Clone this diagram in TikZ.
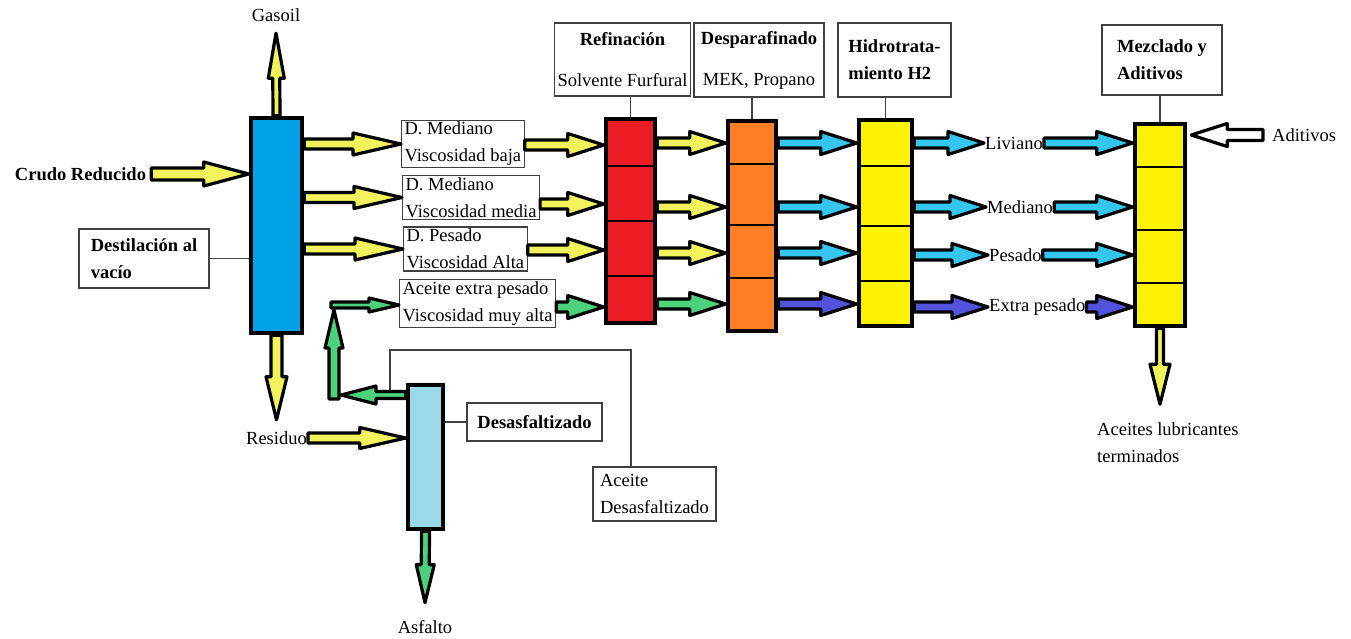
\documentclass[tikz,border=0pt]{standalone}
\usepackage{fontspec}
\setmainfont{Liberation Serif}
\usetikzlibrary{calc}
\definecolor{destblue}{HTML}{00A2E8}
\definecolor{refred}{HTML}{ED1C24}
\definecolor{desporange}{HTML}{FF7F27}
\definecolor{hidyellow}{HTML}{FFF200}
\definecolor{desalight}{HTML}{99D9EA}
\definecolor{ayel}{HTML}{F0F35C}
\definecolor{acyan}{HTML}{35C6F0}
\definecolor{agreen}{HTML}{4CD27C}
\definecolor{apurple}{HTML}{5252DC}
\newcommand\fsz{\fontsize{18.5}{27}\selectfont}
\tikzset{
  ar s/.store in=\arS, ar h/.store in=\arH, ar l/.store in=\arL,
  ar s=5pt, ar h=11.5pt, ar l=36pt,
  flow/.style={draw=black, line width=3.2pt, line join=round, fill=#1,
    to path={let \p1=(\tikztostart), \p2=(\tikztotarget), \n1={atan2((\y2)-(\y1),(\x2)-(\x1))}, \p3=($(\p2)!\arL!(\p1)$) in
      ($(\p1)+(\n1+90:\arS)$) -- ($(\p3)+(\n1+90:\arS)$) -- ($(\p3)+(\n1+90:\arH)$) -- (\p2)
      -- ($(\p3)+(\n1-90:\arH)$) -- ($(\p3)+(\n1-90:\arS)$) -- ($(\p1)+(\n1-90:\arS)$) -- cycle}},
  col/.style={draw=black, line width=4.5pt, inner sep=0pt},
  lbl/.style={draw=black!75, line width=1.2pt, inner xsep=3pt, inner ysep=2pt, align=left},
  txt/.style={inner sep=1pt},
  sep/.style={line width=1.3pt},
  lnk/.style={draw=black!75, line width=1.2pt},
  bold/.style={font=\fsz\bfseries}
}
\begin{document}
\begin{tikzpicture}[x=1pt,y=-1pt,font=\fsz]
\useasboundingbox (0,0) rectangle (1351,638);
\node[col,fill=destblue,minimum width=51pt,minimum height=215pt] (dest) at (276.5,225.5) {};
\node[col,fill=refred,minimum width=49pt,minimum height=204pt] (ref) at (630.5,221) {};
\node[col,fill=desporange,minimum width=48pt,minimum height=210pt] (desp) at (752,226) {};
\node[col,fill=hidyellow,minimum width=53pt,minimum height=206pt] (hid) at (885.5,223) {};
\node[col,fill=hidyellow,minimum width=50pt,minimum height=202pt] (mez) at (1160,225) {};
\node[col,fill=desalight,minimum width=35pt,minimum height=144pt] (desa) at (425.5,457) {};
\foreach \c/\ya/\yb/\yc in {ref/166/221/276,desp/164/225/278,hid/166/226/281,mez/167/230/283}
  \foreach \r in {\ya,\yb,\yc} \draw[sep] (\c.west |- 0,\r) -- (\c.east |- 0,\r);
\node[lbl,bold,minimum width=130pt,minimum height=59pt] (lbdest) at (144,258.5) {Destilación al\\vacío};
\node[lbl,align=center,minimum width=133pt,minimum height=73pt] (lbref) at (622.5,59.5) {\textbf{Refinación}\\[14pt]Solvente Furfural};
\node[lbl,align=center,minimum width=130pt,minimum height=74pt] (lbdesp) at (759,60) {\textbf{Desparafinado}\\[14pt]MEK, Propano};
\node[lbl,bold,minimum width=113pt,minimum height=74pt] (lbhid) at (894.5,60) {Hidrotrata-\\miento H2};
\node[lbl,bold,minimum width=120pt,minimum height=70pt] (lbmez) at (1162,60) {Mezclado y\\Aditivos};
\node[lbl,anchor=west] (lbA) at (401,144) {D. Mediano\\Viscosidad baja};
\node[lbl,anchor=west] (lbB) at (402,197.5) {D. Mediano\\Viscosidad media};
\node[lbl,anchor=west] (lbC) at (403,249) {D. Pesado\\Viscosidad Alta};
\node[lbl,anchor=west] (lbD) at (399,303.5) {Aceite extra pesado\\Viscosidad muy alta};
\node[lbl,bold,minimum width=135pt,minimum height=38pt] (lbdesa) at (534.5,422) {Desasfaltizado};
\node[lbl,minimum width=123pt,minimum height=54pt] (lbaceite) at (654.5,494) {Aceite\\Desasfaltizado};
\node[txt] (gas) at (276,15) {Gasoil};
\node[txt,bold] (crudo) at (80.5,174) {Crudo Reducido};
\node[txt] (res) at (276.5,438) {Residuo};
\node[txt] (asf) at (425,627) {Asfalto};
\node[txt,anchor=west] (liv) at (984,143) {Liviano};
\node[txt,anchor=west] (med) at (986,207) {Mediano};
\node[txt,anchor=west] (pes) at (988,255) {Pesado};
\node[txt,anchor=west] (ext) at (988,307) {Extra pesado};
\node[txt,anchor=west] (adit) at (1271,135) {Aditivos};
\node[txt,anchor=west,align=left] (acl) at (1096,442.5) {Aceites lubricantes\\terminados};
\coordinate (gturn) at (334,395);
\coordinate (gtop) at (334,305);
\coordinate (dao) at (390,391);
\draw[lnk] (lbdest.east) -- (dest.west |- lbdest.east);
\foreach \l/\c in {lbref/ref,lbdesp/desp,lbhid/hid,lbmez/mez} \draw[lnk] (\l.south -| \c.north) -- (\c.north);
\draw[lnk] (desa.east |- lbdesa.west) -- (lbdesa.west);
\draw[lnk] ([xshift=-23.5pt]lbaceite.north) |- ([yshift=41pt]dao) -- (dao);
\draw[flow=ayel,ar s=3.5pt,ar h=8pt,ar l=45pt] (dest.north) to ($(gas.south)+(0,10.5)$);
\draw[flow=ayel,ar s=6pt,ar h=12pt,ar l=45pt] ([xshift=4pt]crudo.east) to (dest.west |- crudo.east);
\foreach \b in {lbA,lbB,lbC} \draw[flow=ayel,ar s=5pt,ar h=11pt,ar l=48pt] (dest.east |- \b.west) to (\b.west);
\foreach \b/\r/\c in {lbA/145/ayel,lbB/204/ayel,lbC/250/ayel,lbD/307/agreen} \draw[flow=\c] (\b.east |- 0,\r) to (ref.west |- 0,\r);
\foreach \r/\c in {143/ayel,207/ayel,253/ayel,304/agreen} \draw[flow=\c] (ref.east |- 0,\r) to (desp.west |- 0,\r);
\foreach \r/\c in {143/acyan,207/acyan,253/acyan,304/apurple} \draw[flow=\c] (desp.east |- 0,\r) to (hid.west |- 0,\r);
\foreach \t/\c in {liv/acyan,med/acyan,pes/acyan,ext/apurple}{
  \draw[flow=\c] (hid.east |- \t.west) to (\t.west);
  \draw[flow=\c] (\t.east) to (mez.west |- \t.east);}
\draw[flow=white,ar s=5.5pt,ar h=11.5pt,ar l=36pt] ([xshift=-8pt]adit.west) to ([xshift=4pt]mez.east |- adit.west);
\draw[flow=ayel,ar s=3.5pt,ar h=10pt,ar l=40pt] (mez.south) to ($(mez.south |- acl.north)+(0,-17)$);
\draw[flow=ayel,ar s=5.5pt,ar h=10.5pt,ar l=43pt] (dest.south) to ($(res.north)+(0,-10.5)$);
\draw[flow=ayel,ar s=5pt,ar h=10.5pt,ar l=46pt] (res.east) to (desa.west |- res.east);
\draw[flow=agreen,ar s=4pt,ar h=9pt,ar l=38pt] (desa.south) to ($(asf.north)+(0,-16.5)$);
\draw[flow=agreen,ar s=3.5pt,ar h=9pt,ar l=35pt] (desa.west |- gturn) to ([xshift=7pt]gturn);
\draw[flow=agreen,ar s=5pt,ar h=9pt,ar l=38pt] ([yshift=-4pt]gturn) to ([yshift=-5pt]gtop);
\draw[flow=agreen,ar s=3pt,ar h=7pt,ar l=30pt] ([xshift=-3pt]gtop) to (lbD.west |- gtop);
\end{tikzpicture}
\end{document}
